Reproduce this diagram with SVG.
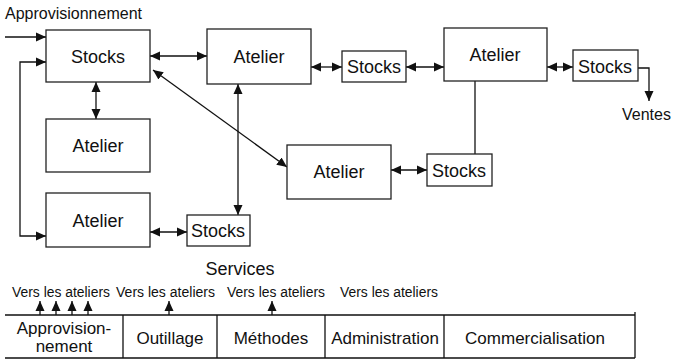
<svg xmlns="http://www.w3.org/2000/svg" width="680" height="360" viewBox="0 0 680 360">
<style>
text{font-family:"Liberation Sans",Arial,sans-serif;fill:#111}
.box{fill:#fff;stroke:#222;stroke-width:1.3}
.lbl{font-size:18px;text-anchor:middle}
.ln{fill:none;stroke:#111;stroke-width:1.3}
.sm{font-size:14px}
.tb{font-size:17px;text-anchor:middle}
</style>
<defs>
<marker id="ah" viewBox="0 0 10 10" refX="10" refY="5" markerWidth="10" markerHeight="10" markerUnits="userSpaceOnUse" orient="auto-start-reverse">
<path d="M0,0.5 L10,5 L0,9.5 Z" fill="#111"/>
</marker>
</defs>
<rect width="680" height="360" fill="#fff"/>
<text x="5" y="19" font-size="16">Approvisionnement</text>
<text x="622" y="120" font-size="16">Ventes</text>
<g id="connectors">
<line class="ln" x1="5" y1="37" x2="46" y2="37" marker-end="url(#ah)"/>
<polyline class="ln" points="46,62 20,62 20,236 46,236" marker-start="url(#ah)" marker-end="url(#ah)"/>
<line class="ln" x1="150" y1="56" x2="207" y2="56" marker-start="url(#ah)" marker-end="url(#ah)"/>
<line class="ln" x1="311" y1="67" x2="342" y2="67" marker-start="url(#ah)" marker-end="url(#ah)"/>
<line class="ln" x1="406" y1="67" x2="444" y2="67" marker-start="url(#ah)" marker-end="url(#ah)"/>
<line class="ln" x1="547" y1="67" x2="573" y2="67" marker-start="url(#ah)" marker-end="url(#ah)"/>
<polyline class="ln" points="638,68 649,68 649,101" marker-end="url(#ah)"/>
<line class="ln" x1="96" y1="82" x2="96" y2="119" marker-start="url(#ah)" marker-end="url(#ah)"/>
<line class="ln" x1="238" y1="84" x2="238" y2="215" marker-start="url(#ah)" marker-end="url(#ah)"/>
<line class="ln" x1="153" y1="70" x2="287" y2="167" marker-start="url(#ah)" marker-end="url(#ah)"/>
<line class="ln" x1="475" y1="81" x2="475" y2="154"/>
<line class="ln" x1="391" y1="170" x2="427" y2="170" marker-start="url(#ah)" marker-end="url(#ah)"/>
<line class="ln" x1="150" y1="232" x2="187" y2="232" marker-start="url(#ah)" marker-end="url(#ah)"/>
<line class="ln" x1="40" y1="315" x2="40" y2="301" marker-end="url(#ah)"/>
<line class="ln" x1="56" y1="315" x2="56" y2="301" marker-end="url(#ah)"/>
<line class="ln" x1="72" y1="315" x2="72" y2="301" marker-end="url(#ah)"/>
<line class="ln" x1="88" y1="315" x2="88" y2="301" marker-end="url(#ah)"/>
<line class="ln" x1="169" y1="315" x2="169" y2="301" marker-end="url(#ah)"/>
<line class="ln" x1="272" y1="315" x2="272" y2="301" marker-end="url(#ah)"/>
</g>
<g id="stocks1"><rect class="box" x="46" y="30" width="104" height="52"/><text class="lbl" x="98" y="63">Stocks</text></g>
<g id="atelier1"><rect class="box" x="207" y="29" width="104" height="55"/><text class="lbl" x="259" y="63">Atelier</text></g>
<g id="stocks2"><rect class="box" x="342" y="51" width="64" height="31"/><text class="lbl" x="374" y="73">Stocks</text></g>
<g id="atelier2"><rect class="box" x="444" y="28" width="103" height="53"/><text class="lbl" x="495" y="61">Atelier</text></g>
<g id="stocks3"><rect class="box" x="573" y="50" width="65" height="31"/><text class="lbl" x="605" y="73">Stocks</text></g>
<g id="atelier3"><rect class="box" x="46" y="119" width="104" height="53"/><text class="lbl" x="98" y="152">Atelier</text></g>
<g id="atelier4"><rect class="box" x="287" y="145" width="104" height="54"/><text class="lbl" x="339" y="178">Atelier</text></g>
<g id="stocks4"><rect class="box" x="427" y="154" width="65" height="32"/><text class="lbl" x="459" y="177">Stocks</text></g>
<g id="atelier5"><rect class="box" x="46" y="193" width="104" height="54"/><text class="lbl" x="98" y="227">Atelier</text></g>
<g id="stocks5"><rect class="box" x="187" y="215" width="63" height="31"/><text class="lbl" x="218" y="237">Stocks</text></g>
<g id="services">
<text x="240" y="275" font-size="18" text-anchor="middle">Services</text>
<text class="sm" x="12" y="297" textLength="98" lengthAdjust="spacingAndGlyphs">Vers les ateliers</text>
<text class="sm" x="116" y="297" textLength="99" lengthAdjust="spacingAndGlyphs">Vers les ateliers</text>
<text class="sm" x="227" y="297" textLength="98" lengthAdjust="spacingAndGlyphs">Vers les ateliers</text>
<text class="sm" x="340" y="297" textLength="98" lengthAdjust="spacingAndGlyphs">Vers les ateliers</text>
<path class="ln" d="M5,315 H635 M5,358 H635 M635,312 V358 M123,315 V358 M217,315 V358 M325,315 V358 M444,315 V358"/>
<text class="tb" x="64" y="334">Approvision-</text>
<text class="tb" x="64" y="352">nement</text>
<text class="tb" x="170" y="344">Outillage</text>
<text class="tb" x="271" y="344">Méthodes</text>
<text class="tb" x="385" y="344">Administration</text>
<text class="tb" x="535" y="344">Commercialisation</text>
</g>
</svg>
